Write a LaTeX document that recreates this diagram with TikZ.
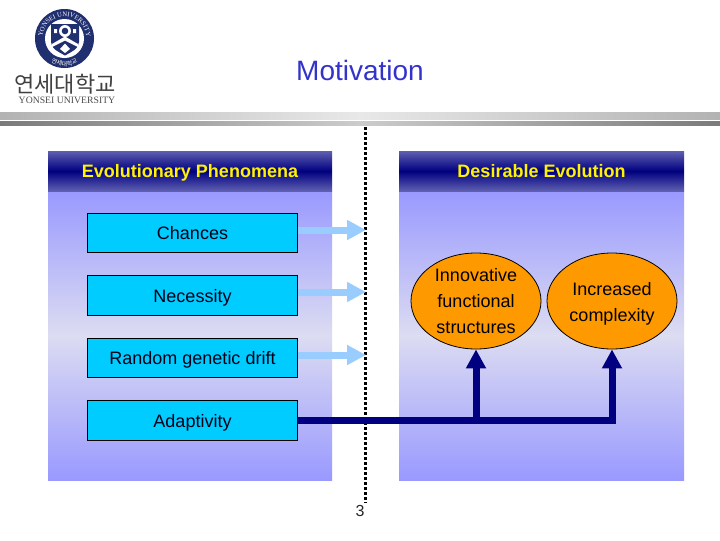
\documentclass[tikz,border=0pt]{standalone}
\usepackage{fontspec}
\setmainfont{Liberation Sans}
\newfontfamily\cjkf{Noto Sans CJK KR}
\newfontfamily\serifl{Liberation Serif}
\usetikzlibrary{shapes.geometric,arrows.meta,decorations.text}
\definecolor{navyc}{HTML}{000080}
\definecolor{panelA}{HTML}{9999FF}
\definecolor{panelB}{HTML}{DCDCF2}
\definecolor{headA}{HTML}{5F5FB0}
\definecolor{boxc}{HTML}{00CCFF}
\definecolor{ellc}{HTML}{FF9900}
\definecolor{lightarrow}{HTML}{99CCFF}
\definecolor{titlec}{HTML}{3333CC}
\definecolor{logoc}{HTML}{1F2F6F}
\tikzset{
  x=0.75pt,y=-0.75pt,
  panel/.style={top color=panelA,bottom color=panelA,middle color=panelB,draw=none},
  header/.style={top color=headA,bottom color=headA,middle color=navyc,draw=none,inner sep=0pt,
    text height=11pt,text depth=1.2pt,
    font=\fontsize{13.5pt}{16pt}\selectfont\bfseries,text=yellow},
  boxst/.style={draw=black,line width=0.75pt,fill=boxc,minimum width=158pt,minimum height=29.5pt,inner sep=0pt,
    text height=11pt,text depth=1.2pt,
    font=\fontsize{13.5pt}{16pt}\selectfont,text=black!90!blue},
  ell/.style={ellipse,draw=black,line width=0.6pt,fill=ellc,minimum width=97.5pt,minimum height=72pt,inner sep=0pt,
    align=center,font=\fontsize{13.5pt}{19.5pt}\selectfont},
  lightarr/.style={draw=lightarrow,line width=5.25pt,-{Triangle[length=14.25pt,width=14.25pt]}},
  darkarr/.style={draw=navyc,line width=5.25pt,line join=miter,-{Triangle[length=14.25pt,width=14.25pt]}},
  dots/.style={draw=black,line width=2.4pt,dash pattern=on 2.4pt off 1.35pt},
}
\begin{document}
\begin{tikzpicture}
\useasboundingbox (0,0) rectangle (720,540);
\fill[white] (0,0) rectangle (720,540);
% rule bars
\shade[left color=black!30,right color=black!30,middle color=black!9] (0,112) rectangle (720,119);
\shade[left color=black!52,right color=black!52,middle color=black!20] (0,121) rectangle (720,125);
% logo
\fill[logoc] (64.5,38.5) circle (29.5);
\fill[white] (64.5,38.5) circle (19.5);
\begin{scope}[shift={(64.5,38.5)},x=0.75pt,y=0.75pt]
\path[postaction={decorate,decoration={text along path,text align=center,
  text={|\fontsize{5pt}{6pt}\selectfont\serifl\color{white}|YONSEI UNIVERSITY}}}]
  (205:22) arc[start angle=205,end angle=-25,radius=22];
\path[postaction={decorate,decoration={text along path,text align=center,
  text={|\fontsize{4.5pt}{6pt}\selectfont\cjkf\color{white}|연세대학교}}}]
  (215:27.5) arc[start angle=215,end angle=325,radius=27.5];
\end{scope}
\fill[logoc] (51,24) -- (79,24) -- (79,42) .. controls (79,49) and (71,52) .. (65,55.5) .. controls (59,52) and (51,49) .. (51,42) -- cycle;
\fill[white] (65,31) circle (6);
\fill[logoc] (65,31) circle (3.3);
\fill[white] (54,29) rectangle (57,33) (73,29) rectangle (76,33);
\fill[white] (52,44) -- (65,36.5) -- (78,44) -- (78,47) -- (65,40.5) -- (52,47) -- cycle;
\fill[white] (65,43.5) -- (70,49) -- (65,53) -- (60,49) -- cycle;
\node[inner sep=0pt,text=black!75,font=\fontsize{16.5pt}{18pt}\selectfont\cjkf] (logoko) at (65,84) {연세대학교};
\node[inner sep=0pt,text=black!70,font=\fontsize{7.3pt}{9pt}\selectfont\serifl] (logoen) at (67,100) {YONSEI UNIVERSITY};
% title
\node[inner sep=0pt,text=titlec,font=\fontsize{21pt}{25pt}\selectfont] (title) at (360,70) {Motivation};
% panels
\shade[panel] (48,191) rectangle (332,480);
\shade[panel] (399,191) rectangle (684,480);
\node[header,minimum width=213pt,minimum height=30pt] (hleft) at (190,171) {Evolutionary Phenomena};
\node[header,minimum width=213.75pt,minimum height=30pt] (hright) at (541.5,171) {Desirable Evolution};
% divider
\coordinate (dtop) at (365.5,127);
\coordinate (dbot) at (365.5,503);
\draw[dots] (dtop) -- (dbot);
% boxes
\node[boxst] (chances) at (192.5,233) {Chances};
\node[boxst] (necessity) at (192.5,295.5) {Necessity};
\node[boxst] (drift) at (192.5,358) {Random genetic drift};
\node[boxst] (adapt) at (192.5,420.5) {Adaptivity};
% ellipses
\node[ell] (innov) at (476,301) {Innovative\\functional\\structures};
\node[ell] (incr) at (612,301) {\rule{0pt}{14.3pt}Increased\\complexity};
% light arrows
\coordinate (t1) at (366,230);
\coordinate (t2) at (366,292);
\coordinate (t3) at (366,355);
\draw[lightarr] (chances.east |- t1) -- (t1);
\draw[lightarr] (necessity.east |- t2) -- (t2);
\draw[lightarr] (drift.east |- t3) -- (t3);
% dark connectors
\draw[darkarr] (adapt.east) -- (adapt.east -| incr.south) -- (incr.south);
\draw[darkarr] (innov.south |- adapt.east) -- (innov.south);
% page number
\node[inner sep=0pt,font=\fontsize{12pt}{14pt}\selectfont,text=black!85] (pageno) at (360,511) {3};
\end{tikzpicture}
\end{document}
